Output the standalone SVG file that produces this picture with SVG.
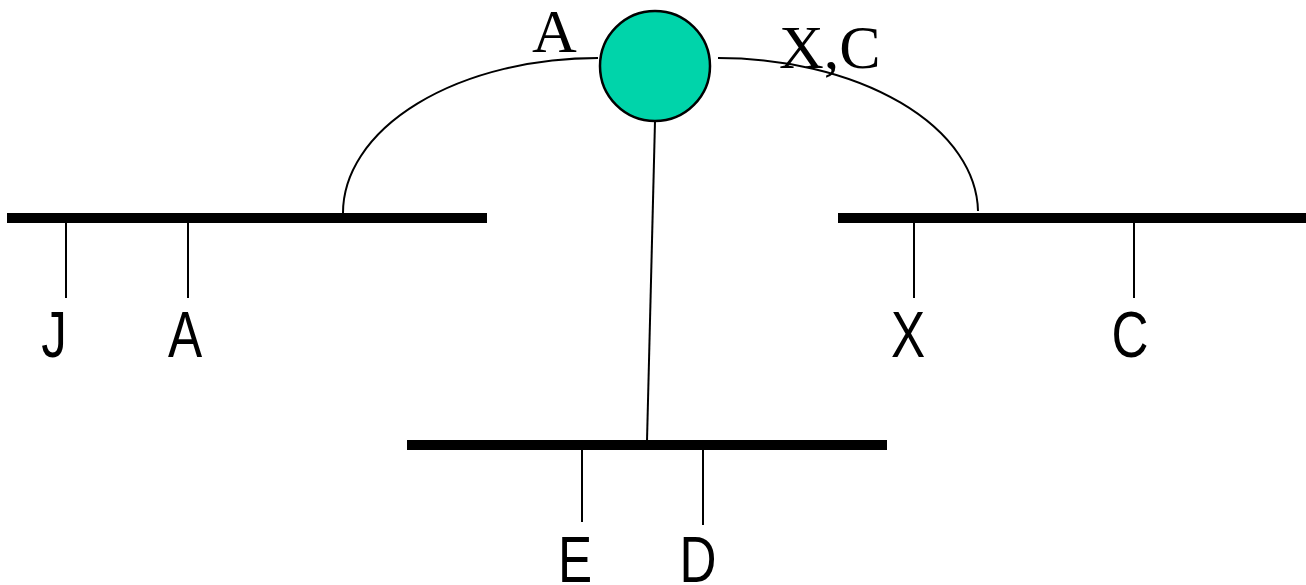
<svg xmlns="http://www.w3.org/2000/svg" width="1306" height="585" viewBox="0 0 1306 585">
<style>
.bus{stroke:#000;stroke-width:10;fill:none}
.thin{stroke:#000;stroke-width:2;fill:none}
.lbl{font-family:"Liberation Sans",Arial,sans-serif;font-size:64px;fill:#000;text-anchor:middle}
.serif{font-family:"Liberation Serif","Times New Roman",serif;font-size:62px;fill:#000}
</style>
<rect width="1306" height="585" fill="#fff"/>
<g id="connectors">
<path class="thin" d="M598,58 A255,155 0 0 0 343,213"/>
<path class="thin" d="M718,58 A260,155 0 0 1 978,211"/>
<line class="thin" x1="655" y1="121" x2="647" y2="441"/>
</g>
<g id="node-left-bus">
<line class="bus" x1="7" y1="218" x2="487" y2="218"/>
<line class="thin" x1="66" y1="223" x2="66" y2="298"/>
<line class="thin" x1="188" y1="223" x2="188" y2="298"/>
<text class="lbl" transform="translate(54,357) scale(0.8,1)">J</text>
<text class="lbl" transform="translate(185,357) scale(0.8,1)">A</text>
</g>
<g id="node-right-bus">
<line class="bus" x1="838" y1="218" x2="1306" y2="218"/>
<line class="thin" x1="914" y1="223" x2="914" y2="298"/>
<line class="thin" x1="1134" y1="223" x2="1134" y2="298"/>
<text class="lbl" transform="translate(908,357) scale(0.8,1)">X</text>
<text class="lbl" transform="translate(1130,357) scale(0.8,1)">C</text>
</g>
<g id="node-bottom-bus">
<line class="bus" x1="407" y1="445" x2="887" y2="445"/>
<line class="thin" x1="582" y1="450" x2="582" y2="522"/>
<line class="thin" x1="703" y1="450" x2="703" y2="525"/>
<text class="lbl" transform="translate(575,582) scale(0.8,1)">E</text>
<text class="lbl" transform="translate(698,582) scale(0.8,1)">D</text>
</g>
<g id="node-circle">
<circle cx="655" cy="66" r="55" fill="#00D4AA" stroke="#000" stroke-width="2.5"/>
<text class="serif" x="532" y="52">A</text>
<text class="serif" x="779" y="68">X,C</text>
</g>
</svg>
